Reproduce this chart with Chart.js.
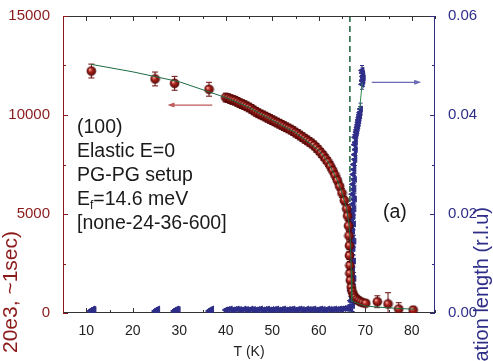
<!DOCTYPE html>
<html>
<head>
<meta charset="utf-8">
<script src="https://cdn.jsdelivr.net/npm/chart.js@4.4.1/dist/chart.umd.min.js"></script>
<style>
  html, body { margin: 0; padding: 0; background: #fff; overflow: hidden; }
</style>
</head>
<body>
<canvas id="chart" width="493" height="361"></canvas>
<script>
// axis ticks
var xTicks = [10, 20, 30, 40, 50, 60, 70, 80];
var yTicks = [0, 5000, 10000, 15000];
var y2Ticks = [0, 0.02, 0.04, 0.06];

// intensity (left axis)
var redT = [
  11.1, 24.8, 29.0, 36.4, 40.0, 40.5, 41.0, 41.5, 42.0, 42.5,
  43.0, 43.5, 44.0, 44.5, 45.0, 45.5, 46.0, 46.5, 47.0, 47.5,
  48.0, 48.5, 49.0, 49.5, 50.0, 50.5, 51.0, 51.5, 52.0, 52.5,
  53.0, 53.5, 54.0, 54.5, 55.0, 55.5, 56.0, 56.5, 57.0, 57.5,
  58.0, 58.5, 59.0, 59.5, 60.0, 60.5, 61.0, 61.5, 62.0, 62.5,
  63.0, 63.5, 64.0, 64.5, 65.0, 65.5, 66.0, 66.2, 66.4, 66.5,
  66.6, 66.6, 66.7, 66.7, 66.8, 67.0, 67.2, 67.5, 67.8, 68.2,
  68.6, 69.0, 69.5, 70.1, 72.6, 74.9, 77.2, 80.3
];
var redC = [
  12220, 11820, 11600, 11300, 10880, 10850, 10800, 10760, 10720, 10660,
  10600, 10550, 10500, 10440, 10380, 10310, 10230, 10160, 10090, 10030,
  9980, 9920, 9860, 9800, 9740, 9680, 9620, 9560, 9500, 9440,
  9380, 9320, 9260, 9190, 9110, 9040, 8960, 8880, 8800, 8720,
  8640, 8560, 8460, 8340, 8220, 8080, 7940, 7780, 7620, 7420,
  7200, 6960, 6700, 6400, 6060, 5680, 5260, 4900, 4400, 3900,
  3400, 2900, 2400, 2000, 1650, 1300, 1080, 900, 780, 690,
  620, 560, 520, 490, 570, 455, 200, 150
];
var redErr = [
  350, 350, 350, 350, 220, 220, 220, 220, 220, 220,
  220, 220, 220, 220, 220, 220, 220, 220, 220, 220,
  220, 220, 220, 220, 220, 220, 220, 220, 220, 220,
  220, 220, 220, 220, 220, 220, 220, 220, 220, 220,
  220, 220, 220, 220, 220, 220, 220, 220, 220, 220,
  220, 220, 220, 220, 220, 220, 220, 220, 220, 220,
  200, 200, 200, 200, 200, 180, 180, 150, 150, 150,
  150, 150, 150, 150, 300, 570, 320, 150
];

// fitted curve
var fitT = [11, 20, 30, 40, 45, 50, 55, 60, 62, 64, 65, 66, 66.5, 66.8, 67.0, 67.1, 70, 75, 80.5];
var fitC = [12560, 12180, 11680, 10880, 10380, 9740, 9110, 8220, 7620, 6700, 6060, 5260, 4500, 3600, 2200, 600, 350, 260, 190];

// correlation length (right axis): flat part below the transition
var blueLowT = [
  10.9, 11.2, 11.5, 11.7, 24.8, 25.1, 25.4, 28.9, 29.2, 29.5,
  29.8, 36.4, 36.7, 37.0, 40.0, 40.5, 41.0, 41.5, 42.0, 42.5,
  43.0, 43.5, 44.0, 44.5, 45.0, 45.5, 46.0, 46.5, 47.0, 47.5,
  48.0, 48.5, 49.0, 49.5, 50.0, 50.5, 51.0, 51.5, 52.0, 52.5,
  53.0, 53.5, 54.0, 54.5, 55.0, 55.5, 56.0, 56.5, 57.0, 57.5,
  58.0, 58.5, 59.0, 59.5, 60.0, 60.5, 61.0, 61.5, 62.0, 62.5,
  63.0, 63.5, 64.0, 64.5, 65.0, 65.5, 66.0, 66.3, 66.6, 66.9
];
var blueLowV = [
  0.0004, 0.0006, 0.0008, 0.0007, 0.0004, 0.0006, 0.0008, 0.0004, 0.0006, 0.0008,
  0.0007, 0.0004, 0.0006, 0.0008, 0.0006, 0.0007, 0.0008, 0.0006, 0.0007, 0.0008,
  0.0007, 0.0006, 0.0008, 0.0007, 0.0006, 0.0008, 0.0007, 0.0006, 0.0007, 0.0008,
  0.0006, 0.0007, 0.0008, 0.0006, 0.0007, 0.0007, 0.0008, 0.0006, 0.0007, 0.0008,
  0.0006, 0.0007, 0.0007, 0.0008, 0.0006, 0.0007, 0.0008, 0.0007, 0.0006, 0.0008,
  0.0007, 0.0007, 0.0008, 0.0006, 0.0007, 0.0008, 0.0007, 0.0006, 0.0008, 0.0007,
  0.0007, 0.0008, 0.0007, 0.0008, 0.0008, 0.0009, 0.0009, 0.0010, 0.0012, 0.0010
];
var blueLowErr = [
  0.0003, 0.0003, 0.0003, 0.0003, 0.0003, 0.0003, 0.0003, 0.0003, 0.0003, 0.0003,
  0.0003, 0.0003, 0.0003, 0.0003, 0.0003, 0.0003, 0.0003, 0.0003, 0.0003, 0.0003,
  0.0003, 0.0003, 0.0003, 0.0003, 0.0003, 0.0003, 0.0003, 0.0003, 0.0003, 0.0003,
  0.0003, 0.0003, 0.0003, 0.0003, 0.0003, 0.0003, 0.0003, 0.0003, 0.0003, 0.0003,
  0.0003, 0.0003, 0.0003, 0.0003, 0.0003, 0.0003, 0.0003, 0.0003, 0.0003, 0.0003,
  0.0003, 0.0003, 0.0003, 0.0003, 0.0003, 0.0003, 0.0003, 0.0003, 0.0003, 0.0003,
  0.0003, 0.0003, 0.0003, 0.0003, 0.0003, 0.0003, 0.0004, 0.0004, 0.0005, 0.0005
];

// correlation length: the jump at the transition
var blueRiseT = [
  66.7, 67.3, 66.9, 67.5, 67.1, 66.8, 67.4, 67.0, 67.6, 67.2,
  66.7, 67.3, 66.9, 67.5, 67.1, 66.8, 67.4, 67.0, 67.6, 67.2,
  66.9, 67.3, 67.1, 67.5, 67.0, 67.4, 67.2, 67.6, 67.3, 67.7,
  67.2, 67.6, 67.3, 67.7, 67.4, 67.6, 67.5, 67.8, 67.7, 67.9,
  67.7, 67.9, 67.8, 68.0, 68.1, 68.2, 68.3, 68.4, 68.5, 68.6,
  68.7, 68.8, 68.9, 69.0, 68.6,
  69.3, 69.4, 69.5, 69.4, 69.6, 69.3, 69.5
];
var blueRiseV = [
  0.0010, 0.0015, 0.0025, 0.0030, 0.0040, 0.0045, 0.0055, 0.0060, 0.0070, 0.0075,
  0.0085, 0.0090, 0.0100, 0.0105, 0.0115, 0.0120, 0.0130, 0.0135, 0.0145, 0.0150,
  0.0160, 0.0165, 0.0175, 0.0180, 0.0190, 0.0195, 0.0205, 0.0210, 0.0220, 0.0230,
  0.0240, 0.0250, 0.0260, 0.0270, 0.0280, 0.0290, 0.0300, 0.0310, 0.0320, 0.0330,
  0.0340, 0.0345, 0.0355, 0.0360, 0.0365, 0.0370, 0.0375, 0.0380, 0.0385, 0.0390,
  0.0395, 0.0400, 0.0405, 0.0412, 0.0390,
  0.0462, 0.0470, 0.0478, 0.0485, 0.0475, 0.0490, 0.0468
];
var blueRiseErr = [
  0.0012, 0.0012, 0.0012, 0.0012, 0.0012, 0.0012, 0.0012, 0.0012, 0.0012, 0.0012,
  0.0012, 0.0012, 0.0012, 0.0012, 0.0012, 0.0012, 0.0012, 0.0012, 0.0012, 0.0012,
  0.0012, 0.0012, 0.0012, 0.0012, 0.0012, 0.0012, 0.0012, 0.0012, 0.0012, 0.0012,
  0.0012, 0.0012, 0.0012, 0.0012, 0.0012, 0.0012, 0.0012, 0.0012, 0.0012, 0.0012,
  0.0012, 0.0012, 0.0012, 0.0012, 0.0012, 0.0012, 0.0012, 0.0012, 0.0012, 0.0012,
  0.0012, 0.0012, 0.0012, 0.0012, 0.0012,
  0.0010, 0.0010, 0.0010, 0.0010, 0.0010, 0.0010, 0.0010
];
var blueFitT = [68.8, 69.35];
var blueFitV = [0.0412, 0.0465];

var tcLine = 66.7;

var FONT = "'Liberation Sans', Arial, sans-serif";
var RED = '#8b1a1a';
var BLUE = '#2e2e88';

function sphere(r) {
    var c = document.createElement('canvas');
    var s = Math.ceil(r * 2 + 2);
    c.width = s; c.height = s;
    var g = c.getContext('2d');
    var m = s / 2;
    var grad = g.createRadialGradient(m - r * 0.35, m - r * 0.35, r * 0.1, m, m, r);
    grad.addColorStop(0, '#f2b0a8');
    grad.addColorStop(0.35, '#b3261e');
    grad.addColorStop(1, '#5a0808');
    g.fillStyle = grad;
    g.beginPath();
    g.arc(m, m, r, 0, 2 * Math.PI);
    g.fill();
    g.strokeStyle = '#4a0505';
    g.lineWidth = 0.6;
    g.stroke();
    return c;
}

function pts(xs, ys) {
    return xs.map(function(x, i) { return { x: x, y: ys[i] }; });
}

var errorSets = {
    'intensity': redErr,
    'correlation': blueLowErr,
    'correlation rise': blueRiseErr
};

function arrow(ctx, x1, y, x2, color) {
    ctx.strokeStyle = color;
    ctx.fillStyle = color;
    ctx.lineWidth = 1.2;
    ctx.beginPath(); ctx.moveTo(x1, y); ctx.lineTo(x2, y); ctx.stroke();
    var d = x2 > x1 ? 1 : -1;
    ctx.beginPath();
    ctx.moveTo(x2 + d * 2, y);
    ctx.lineTo(x2 - d * 5, y - 2.5);
    ctx.lineTo(x2 - d * 5, y + 2.5);
    ctx.closePath(); ctx.fill();
}

var extras = {
    id: 'extras',
    beforeDatasetsDraw: function(chart) {
        var ctx = chart.ctx, a = chart.chartArea;
        var sx = chart.scales.x, sy = chart.scales.y, sy2 = chart.scales.y2;
        ctx.save();
        // dashed transition line
        ctx.strokeStyle = '#1b5e3b';
        ctx.lineWidth = 1.5;
        ctx.setLineDash([6, 4]);
        var px = sx.getPixelForValue(tcLine);
        ctx.beginPath(); ctx.moveTo(px, a.top); ctx.lineTo(px, a.bottom); ctx.stroke();
        ctx.setLineDash([]);

        // frame
        ctx.lineWidth = 1;
        ctx.strokeStyle = '#333';
        ctx.beginPath();
        ctx.moveTo(a.left, a.top + 0.5); ctx.lineTo(a.right, a.top + 0.5);
        ctx.moveTo(a.left, a.bottom - 0.5); ctx.lineTo(a.right, a.bottom - 0.5);
        xTicks.forEach(function(v) {
            var p = Math.round(sx.getPixelForValue(v)) + 0.5;
            ctx.moveTo(p, a.bottom); ctx.lineTo(p, a.bottom - 5);
            ctx.moveTo(p, a.top); ctx.lineTo(p, a.top + 5);
            var q = Math.round(sx.getPixelForValue(v + 5)) + 0.5;
            ctx.moveTo(q, a.bottom); ctx.lineTo(q, a.bottom - 3);
            ctx.moveTo(q, a.top); ctx.lineTo(q, a.top + 3);
        });
        ctx.stroke();

        ctx.strokeStyle = RED;
        ctx.beginPath();
        ctx.moveTo(a.left + 0.5, a.top); ctx.lineTo(a.left + 0.5, a.bottom);
        yTicks.forEach(function(v, i) {
            var p = Math.round(sy.getPixelForValue(v)) + 0.5;
            ctx.moveTo(a.left, p); ctx.lineTo(a.left + 5, p);
            if (i < yTicks.length - 1) {
                var q = Math.round(sy.getPixelForValue(v + 2500)) + 0.5;
                ctx.moveTo(a.left, q); ctx.lineTo(a.left + 3, q);
            }
        });
        ctx.stroke();

        ctx.strokeStyle = BLUE;
        ctx.beginPath();
        ctx.moveTo(a.right - 0.5, a.top); ctx.lineTo(a.right - 0.5, a.bottom);
        y2Ticks.forEach(function(v, i) {
            var p = Math.round(sy2.getPixelForValue(v)) + 0.5;
            ctx.moveTo(a.right, p); ctx.lineTo(a.right - 5, p);
            if (i < y2Ticks.length - 1) {
                var q = Math.round(sy2.getPixelForValue(v + 0.01)) + 0.5;
                ctx.moveTo(a.right, q); ctx.lineTo(a.right - 3, q);
            }
        });
        ctx.stroke();
        ctx.restore();
    },
    beforeDatasetDraw: function(chart, args) {
        var ds = chart.data.datasets[args.index];
        var errs = errorSets[ds.label];
        if (!errs) return;
        var ctx = chart.ctx, a = chart.chartArea;
        var meta = chart.getDatasetMeta(args.index);
        var ys = chart.scales[meta.yAxisID];
        var isRed = ds.label === 'intensity';
        ctx.save();
        ctx.beginPath();
        ctx.rect(a.left, a.top, a.right - a.left, a.bottom - a.top);
        ctx.clip();
        ctx.strokeStyle = isRed ? '#6b0d0d' : BLUE;
        ctx.lineWidth = 1;
        var cap = isRed ? 3 : 2;
        ctx.beginPath();
        meta.data.forEach(function(el, i) {
            var v = ds.data[i].y;
            var y1 = ys.getPixelForValue(v - errs[i]);
            var y2 = ys.getPixelForValue(v + errs[i]);
            ctx.moveTo(el.x, y1); ctx.lineTo(el.x, y2);
            ctx.moveTo(el.x - cap, y1); ctx.lineTo(el.x + cap, y1);
            ctx.moveTo(el.x - cap, y2); ctx.lineTo(el.x + cap, y2);
        });
        ctx.stroke();
        ctx.restore();
    },
    afterDatasetsDraw: function(chart) {
        var ctx = chart.ctx, a = chart.chartArea;
        var sx = chart.scales.x, sy = chart.scales.y, sy2 = chart.scales.y2;
        ctx.save();
        arrow(ctx, sx.getPixelForValue(37.1), sy.getPixelForValue(10500), sx.getPixelForValue(27.9), '#c05a5a');
        arrow(ctx, sx.getPixelForValue(71.4), sy2.getPixelForValue(0.0466), sx.getPixelForValue(81.6), '#6a6ab4');

        ctx.fillStyle = '#1a1a1a';
        ctx.font = '19.5px ' + FONT;
        ctx.textBaseline = 'middle';
        ctx.textAlign = 'left';
        var lx = a.left + 14;
        ctx.fillText('(100)', lx, 128);
        ctx.fillText('Elastic E=0', lx, 152);
        ctx.fillText('PG-PG setup', lx, 176);
        ctx.fillText('E', lx, 200);
        var w = ctx.measureText('E').width;
        ctx.font = '12px ' + FONT;
        ctx.fillText('f', lx + w, 206);
        var w2 = ctx.measureText('f').width;
        ctx.font = '19.5px ' + FONT;
        ctx.fillText('=14.6 meV', lx + w + w2, 200);
        ctx.fillText('[none-24-36-600]', lx, 224);
        ctx.fillText('(a)', 383, 213);

        // axis titles (cut off by the page edge, as in the original)
        ctx.font = '21px ' + FONT;
        ctx.textAlign = 'right';
        ctx.fillStyle = RED;
        ctx.translate(11, 231);
        ctx.rotate(-Math.PI / 2);
        ctx.fillText('Intensity (counts  20e3, ~1sec)', 0, 0);
        ctx.setTransform(1, 0, 0, 1, 0, 0);
        ctx.font = '20px ' + FONT;
        ctx.fillStyle = BLUE;
        ctx.translate(482, 207);
        ctx.rotate(-Math.PI / 2);
        ctx.fillText('Correlation length (r.l.u)', 0, 0);
        ctx.restore();
    }
};

new Chart(document.getElementById('chart').getContext('2d'), {
    type: 'scatter',
    data: {
        datasets: [
            {
                label: 'fit',
                data: pts(fitT, fitC),
                yAxisID: 'y',
                showLine: true,
                borderColor: '#1e6b44',
                borderWidth: 1,
                pointRadius: 0,
                order: 0
            },
            {
                label: 'intensity',
                data: pts(redT, redC),
                yAxisID: 'y',
                pointStyle: sphere(4.5),
                order: 1
            },
            {
                label: 'correlation fit',
                data: pts(blueFitT, blueFitV),
                yAxisID: 'y2',
                showLine: true,
                borderColor: '#2f8a4f',
                borderWidth: 1,
                pointRadius: 0,
                order: 2
            },
            {
                label: 'correlation rise',
                data: pts(blueRiseT, blueRiseV),
                yAxisID: 'y2',
                pointStyle: 'triangle',
                rotation: -90,
                pointRadius: 3.5,
                backgroundColor: BLUE,
                borderColor: BLUE,
                borderWidth: 1,
                order: 3
            },
            {
                label: 'correlation',
                data: pts(blueLowT, blueLowV),
                yAxisID: 'y2',
                pointStyle: 'triangle',
                rotation: -90,
                pointRadius: 3.5,
                backgroundColor: BLUE,
                borderColor: BLUE,
                borderWidth: 1,
                order: 4
            }
        ]
    },
    options: {
        responsive: false,
        animation: false,
        devicePixelRatio: 1,
        layout: { padding: { top: 16, left: 0, right: 0, bottom: 0 } },
        plugins: {
            legend: { display: false },
            tooltip: { enabled: false }
        },
        scales: {
            x: {
                type: 'linear',
                position: 'bottom',
                min: 5,
                max: 85,
                afterBuildTicks: function(s) { s.ticks = xTicks.map(function(v) { return { value: v }; }); },
                afterFit: function(s) { s.height = 48; },
                grid: { display: false },
                border: { display: false },
                ticks: { color: '#222', font: { family: FONT, size: 14 }, padding: 2, maxRotation: 0, autoSkip: false },
                title: { display: true, text: 'T (K)', color: '#222', font: { family: FONT, size: 14 }, padding: { top: 0, bottom: 0 } }
            },
            y: {
                position: 'left',
                min: 0,
                max: 15000,
                afterBuildTicks: function(s) { s.ticks = yTicks.map(function(v) { return { value: v }; }); },
                afterFit: function(s) { s.width = 63; },
                grid: { display: false },
                border: { display: false },
                ticks: {
                    color: RED,
                    font: { family: FONT, size: 15 },
                    padding: 5,
                    callback: function(v) { return String(v); }
                }
            },
            y2: {
                position: 'right',
                min: 0,
                max: 0.06,
                afterBuildTicks: function(s) { s.ticks = y2Ticks.map(function(v) { return { value: v }; }); },
                afterFit: function(s) { s.width = 58; },
                grid: { display: false },
                border: { display: false },
                ticks: {
                    color: BLUE,
                    font: { family: FONT, size: 15 },
                    padding: 5,
                    callback: function(v) { return v.toFixed(2); }
                }
            }
        }
    },
    plugins: [extras]
});
</script>
</body>
</html>
